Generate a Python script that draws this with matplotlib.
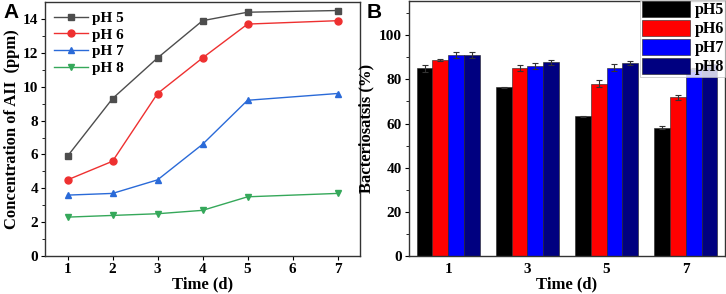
import numpy as np
import matplotlib
matplotlib.use("Agg")
import matplotlib.pyplot as plt

plt.rcParams.update({"font.family": "Liberation Serif", "font.weight": "bold", "font.size": 11,
                     "axes.labelweight": "bold", "axes.linewidth": 1.0, "axes.edgecolor": "#333333"})

# ---------------------------------------------------------------- data A
days = [1, 2, 3, 4, 5, 7]
xpos_a = [1, 2, 3, 4, 5, 7]
ph5 = [5.9, 9.3, 11.7, 13.9, 14.4, 14.5]
ph6 = [4.5, 5.6, 9.6, 11.7, 13.7, 13.9]
ph7 = [3.6, 3.7, 4.5, 6.6, 9.2, 9.6]
ph8 = [2.3, 2.4, 2.5, 2.7, 3.5, 3.7]
tick_a = [1, 2, 3, 4, 5, 6, 7]
tick_a_lab = ["1", "2", "3", "4", "5", "6", "7"]

# ---------------------------------------------------------------- data B
groups_b = ["1", "3", "5", "7"]
bac5 = [85.0, 76.3, 63.3, 58.0]
bac6 = [88.8, 85.0, 78.0, 71.8]
bac7 = [91.0, 86.0, 85.3, 84.5]
bac8 = [91.0, 87.7, 87.2, 87.0]
err5 = [1.5, 0.3, 0.3, 0.7]
err6 = [0.3, 1.3, 1.7, 1.0]
err7 = [1.3, 1.5, 1.5, 0.8]
err8 = [1.2, 1.0, 0.9, 1.4]

fig = plt.figure(figsize=(7.26, 2.94), dpi=100)
axA = fig.add_axes([0.062, 0.129, 0.434, 0.864])
axB = fig.add_axes([0.563, 0.129, 0.436, 0.868])

# ---------------------------------------------------------------- panel A
series = [(ph5, "pH 5", "#4d4d4d", "s"), (ph6, "pH 6", "#ee3030", "o"),
          (ph7, "pH 7", "#2a6ad8", "^"), (ph8, "pH 8", "#35a85a", "v")]
for y, lab, col, mk in series:
    axA.plot(xpos_a, y, color=col, marker=mk, ms=5, lw=1.0, label=lab)
axA.set_xlim(0.5, 7.5)
axA.set_ylim(0, 15)
axA.set_xticks(tick_a)
axA.set_xticklabels(tick_a_lab)
axA.set_yticks(np.arange(0, 15, 2))
axA.set_yticks(np.arange(1, 15, 2), minor=True)
axA.tick_params(axis="both", direction="out", length=3, pad=2)
axA.tick_params(axis="y", which="minor", length=2)
axA.set_xlabel("Time (d)", fontsize=12, labelpad=0)
axA.set_ylabel("Concentration of AII  (ppm)", fontsize=12, labelpad=2)
axA.legend(loc="upper left", frameon=False, fontsize=11, handlelength=2.2,
           handletextpad=0.3, borderaxespad=0.2, labelspacing=0.2, bbox_to_anchor=(0.0, 1.0))
fig.text(0.005, 0.99, "A", family="Liberation Sans", weight="bold", fontsize=15, va="top")

# ---------------------------------------------------------------- panel B
x = np.arange(len(groups_b))
w = 0.2
bars = [(bac5, err5, "pH5", "#000000"), (bac6, err6, "pH6", "#ff0000"),
        (bac7, err7, "pH7", "#0000ff"), (bac8, err8, "pH8", "#000080")]
for i, (v, e, lab, col) in enumerate(bars):
    axB.bar(x + (i - 1.5) * w, v, w, yerr=e, color=col, edgecolor="#222222", lw=0.4,
            label=lab, error_kw=dict(ecolor="#333333", elinewidth=0.8, capsize=2, capthick=0.8))
axB.set_xlim(-0.5, 3.5)
axB.set_ylim(0, 115.5)
axB.set_xticks(x)
axB.set_xticklabels(groups_b)
axB.set_yticks(np.arange(0, 101, 20))
axB.set_yticks(np.arange(10, 111, 20), minor=True)
axB.tick_params(axis="y", direction="out", length=3, pad=2)
axB.tick_params(axis="y", which="minor", length=2)
axB.tick_params(axis="x", length=0, pad=5)
axB.set_xlabel("Time (d)", fontsize=12, labelpad=0)
axB.set_ylabel("Bacteriosatsis (%)", fontsize=12, labelpad=3)
leg = axB.legend(loc="upper right", fontsize=11.5, handlelength=3.0, handleheight=1.1,
                 borderaxespad=0.0, labelspacing=0.12, fancybox=False, borderpad=0.1,
                 handletextpad=0.3, bbox_to_anchor=(1.0, 1.005))
leg.get_frame().set_edgecolor("#bbbbbb")
leg.get_frame().set_linewidth(0.6)
fig.text(0.505, 0.99, "B", family="Liberation Sans", weight="bold", fontsize=15, va="top")

fig.savefig("out.png", dpi=100)
